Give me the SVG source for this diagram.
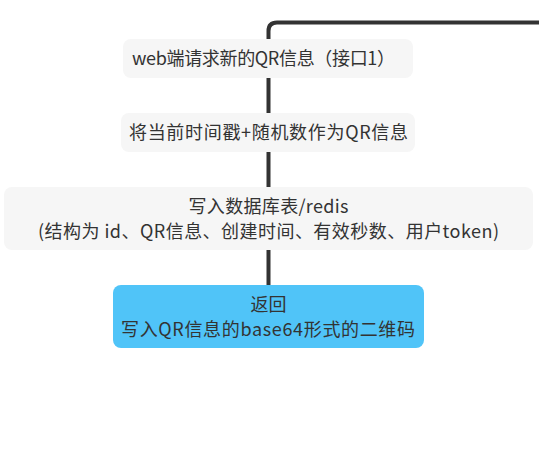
<svg xmlns="http://www.w3.org/2000/svg" width="539" height="458" viewBox="0 0 539 458">
<style>
.node{fill:#f6f6f6}
.blue{fill:#50c4f8}
.t{font-family:"Noto Sans CJK SC","Noto Sans",sans-serif;font-size:18px;fill:#333;text-anchor:middle;dominant-baseline:central}
.link{fill:none;stroke:#333;stroke-width:4}
</style>
<rect width="539" height="458" fill="#fff"/>
<g id="connectors">
<path class="link" d="M268.5,286 V31 Q268.5,22.5 277,22.5 H539"/>
</g>
<g id="n1">
<rect class="node" x="123" y="39" width="290" height="39" rx="8"/>
<text class="t" x="263.5" y="57" textLength="263" lengthAdjust="spacing">web端请求新的QR信息（接口1）</text>
</g>
<g id="n2">
<rect class="node" x="121" y="113" width="294" height="39" rx="8"/>
<text class="t" x="268.5" y="131" textLength="279" lengthAdjust="spacing">将当前时间戳+随机数作为QR信息</text>
</g>
<g id="n3">
<rect class="node" x="4" y="187" width="529" height="63" rx="8"/>
<text class="t" x="268.5" y="204.5" textLength="160" lengthAdjust="spacing">写入数据库表/redis</text>
<text class="t" x="268.5" y="230" textLength="461" lengthAdjust="spacing">(结构为 id、QR信息、创建时间、有效秒数、用户token)</text>
</g>
<g id="n4">
<rect class="blue" x="113" y="285" width="311" height="63" rx="8"/>
<text class="t" x="268.5" y="303">返回</text>
<text class="t" x="268" y="328" textLength="294" lengthAdjust="spacing">写入QR信息的base64形式的二维码</text>
</g>
</svg>
